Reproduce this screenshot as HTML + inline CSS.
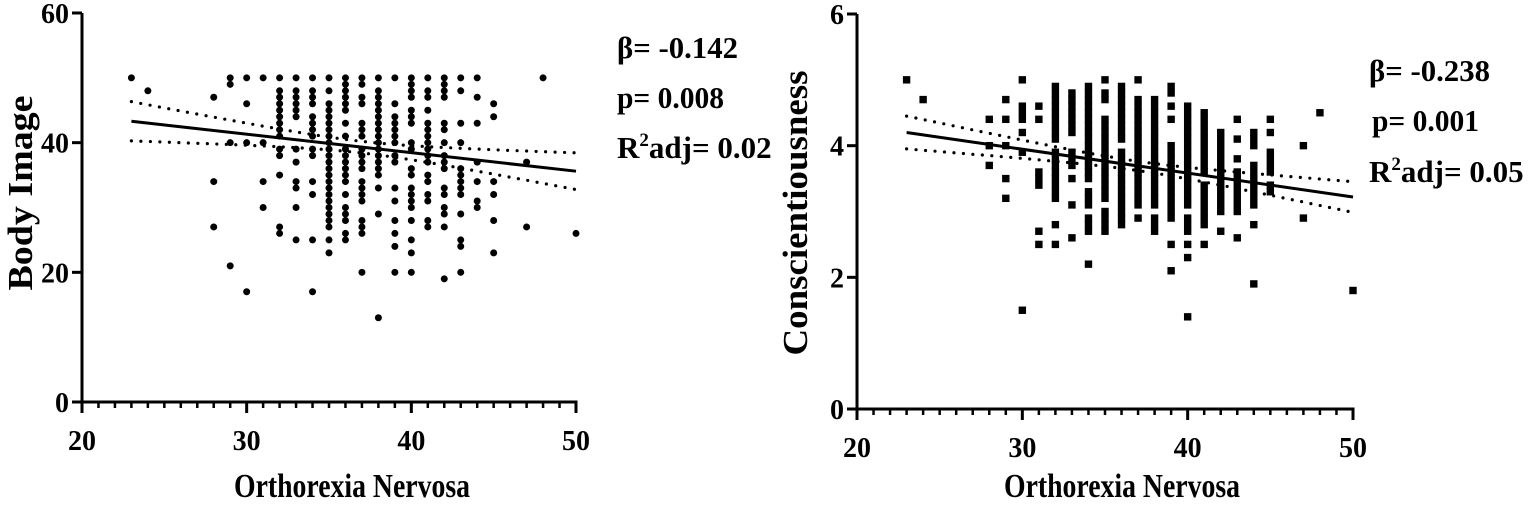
<!DOCTYPE html>
<html><head><meta charset="utf-8"><style>
html,body{margin:0;padding:0;background:#fff;}
svg{display:block;}
text{font-family:"Liberation Serif",serif;font-weight:bold;fill:#000;}
</style></head><body>
<svg id="c" width="1535" height="511" viewBox="0 0 1535 511">
<g id="left"></g>
<g id="right"></g>
<text x="617" y="58" font-size="31" textLength="121" lengthAdjust="spacingAndGlyphs">β= -0.142</text>
<text x="617" y="108" font-size="31" textLength="107" lengthAdjust="spacingAndGlyphs">p= 0.008</text>
<text x="617" y="158" font-size="31">R<tspan dy="-12" font-size="19">2</tspan><tspan dy="12">adj= 0.02</tspan></text>
<text x="1369" y="81" font-size="31" textLength="121" lengthAdjust="spacingAndGlyphs">β= -0.238</text>
<text x="1372" y="131" font-size="31" textLength="107" lengthAdjust="spacingAndGlyphs">p= 0.001</text>
<text x="1369" y="182" font-size="31">R<tspan dy="-12" font-size="19">2</tspan><tspan dy="12">adj= 0.05</tspan></text>
</svg>
<script>
// ---- Left chart data (Body Image) ----
const leftX = [23,24,28,29,30,31,32,33,34,35,36,37,38,39,40,41,42,43,44,45,47,48,50];
const leftY = [
 [50],[48],[47,34,27],[50,49,40,21],[50,46,40,17],[50,40,34,30],
 [50,48,47,46,45,44,43,42,41,39,38,35,27,26],
 [50,48,47,46,45,44,39,37,34,33,30,25],
 [50,48,47,46,44,43,42,41,39,38,34,32,25,17],
 [50,48,46,45,44,43,42,41,40,39,38,37,36,35,34,33,32,31,30,29,28,27,25,23],
 [50,49,48,47,46,45,43,41,39,38,37,36,35,34,32,30,29,28,26,25],
 [50,49,47,46,43,42,41,39,38,37,36,34,33,32,31,28,27,26,20],
 [50,48,47,46,45,44,43,42,41,40,39,38,37,36,35,33,29,13],
 [50,46,44,43,42,41,40,38,37,33,31,28,26,24,20],
 [50,49,48,47,45,44,43,40,39,36,35,33,32,31,30,28,25,23,20],
 [50,48,47,45,43,42,41,40,39,38,37,35,34,32,31,28,27],
 [50,49,48,47,43,42,40,38,37,36,33,32,30,29,27,19],
 [50,48,43,40,36,35,34,33,32,29,25,24,20],
 [50,47,43,37,34,31,30],
 [46,44,34,32,28,23],
 [37,27],[50],[26]
];
const leftFit = [43.3, 35.6];
const leftCI = [0.8, 0.0427, 37];
const leftYTicks = [0,20,40,60];
const xTicks = [20,30,40,50];

// ---- Right chart data (Conscientiousness) ----
const rightX = [23,24,28,29,30,31,32,33,34,35,36,37,38,39,40,41,42,43,44,45,47,48,50];
const rightY = [
 [5.0],[4.7],[4.4,4.0,3.7],[4.7,4.4,4.0,3.5,3.2],[5.0,4.6,4.5,4.4,4.2,3.9,1.5],
 [4.6,4.4,3.6,3.5,3.4,2.7,2.5],
 [4.9,4.8,4.7,4.6,4.5,4.4,4.3,4.2,4.1,3.9,3.8,3.7,3.6,3.5,3.4,3.3,3.2,2.8,2.5],
 [4.8,4.7,4.6,4.5,4.4,4.3,4.2,3.9,3.8,3.7,3.5,3.1,2.6],
 [4.9,4.8,4.7,4.6,4.5,4.4,4.3,4.2,4.1,4.0,3.9,3.8,3.7,3.6,3.5,3.3,3.2,3.1,2.9,2.8,2.7,2.2],
 [5.0,4.8,4.7,4.4,4.3,4.2,4.1,4.0,3.9,3.8,3.7,3.6,3.5,3.4,3.3,3.2,3.0,2.9,2.8,2.7],
 [4.9,4.8,4.7,4.6,4.5,4.4,4.3,4.2,4.1,3.9,3.8,3.7,3.6,3.5,3.4,3.3,3.2,3.1,3.0,2.9,2.8],
 [5.0,4.7,4.6,4.5,4.4,4.3,4.2,4.1,4.0,3.9,3.8,3.7,3.6,3.5,3.4,3.3,3.2,3.1,2.9],
 [4.7,4.6,4.5,4.4,4.3,4.2,4.1,4.0,3.9,3.8,3.7,3.6,3.5,3.4,3.3,3.2,3.1,2.9,2.8,2.7],
 [4.9,4.8,4.6,4.4,4.0,3.9,3.8,3.7,3.6,3.5,3.4,3.3,3.2,3.1,3.0,2.9,2.5,2.1],
 [4.6,4.5,4.4,4.3,4.2,4.1,4.0,3.9,3.8,3.7,3.6,3.5,3.4,3.3,3.2,3.1,2.9,2.8,2.7,2.5,2.3,1.4],
 [4.5,4.4,4.3,4.2,4.1,4.0,3.9,3.8,3.7,3.6,3.4,3.3,3.2,3.1,3.0,2.9,2.8,2.5],
 [4.2,4.1,4.0,3.9,3.8,3.7,3.6,3.5,3.4,3.3,3.2,3.1,3.0,2.7],
 [4.4,4.1,3.8,3.6,3.5,3.4,3.3,3.2,3.1,3.0,2.6],
 [4.2,4.1,4.0,3.7,3.6,3.5,3.4,3.3,3.2,3.1,2.8,1.9],
 [4.4,4.2,3.9,3.8,3.7,3.6,3.4,3.3],
 [4.0,2.9],[4.5],[1.8]
];
const rightFit = [4.2, 3.22];
const rightCI = [0.005, 0.000293, 37];
const rightYTicks = [0,2,4,6];

const NS = 'http://www.w3.org/2000/svg';
function mk(parent, tag, attrs){
  const e = document.createElementNS(NS, tag);
  for (const k in attrs) e.setAttribute(k, attrs[k]);
  parent.appendChild(e); return e;
}

function drawChart(g, o){
  const sx = v => o.x0 + (v - 20) * (o.x1 - o.x0) / 30;
  const sy = v => o.y0 - (v - 0) * (o.y0 - o.yTop) / o.yMax;
  const ya = mk(g,'line',{x1:o.x0,y1:o.yTop,x2:o.x0,y2:o.y0+10,stroke:'#000','stroke-width':3});
  
  
  const xa = mk(g,'line',{x1:o.x0-1.5,y1:o.y0,x2:o.x1+1.5,y2:o.y0,stroke:'#000','stroke-width':3});
  
  
  for (let v = 20; v <= 50; v++){
    const major = v % 10 === 0;
    const t = mk(g,'line',{x1:sx(v),y1:o.y0,x2:sx(v),y2:o.y0+(major?11:6),stroke:'#000','stroke-width':major?3:2.5});
    
    
  }
  xTicks.forEach(v => {
    const t = mk(g,'text',{x:sx(v),y:o.y0+48,'font-size':28,'text-anchor':'middle'});
    t.textContent = v;
    
    
  });
  o.yTicks.forEach(v => {
    const t = mk(g,'line',{x1:o.x0-10,y1:sy(v),x2:o.x0,y2:sy(v),stroke:'#000','stroke-width':3});
    
    
    const l = mk(g,'text',{x:o.x0-13,y:sy(v)+10,'font-size':28,'text-anchor':'end'});
    l.textContent = v;
    
    
  });
  const xt = mk(g,'text',{x:o.xTitleX,y:497,'font-size':34,'text-anchor':'middle',textLength:236,lengthAdjust:'spacingAndGlyphs'});
  xt.textContent = 'Orthorexia Nervosa';
  
  
  const yt = mk(g,'text',{x:0,y:0,'font-size':35,'text-anchor':'middle',textLength:o.titleLen,lengthAdjust:'spacingAndGlyphs',transform:`translate(${o.x0-50},${o.titleY}) rotate(-90)`});
  yt.textContent = o.title;
  
  
  o.xs.forEach((x, i) => {
    o.ys[i].forEach(y => {
      let m;
      if (o.square) m = mk(g,'rect',{x:sx(x)-3.7,y:sy(y)-3.7,width:7.4,height:7.4,fill:'#000'});
      else m = mk(g,'circle',{cx:sx(x),cy:sy(y),r:3.5,fill:'#000'});
      
      
    });
  });
  const fit = x => o.fit[0] + (o.fit[1]-o.fit[0]) * (x-23) / 27;
  const hw = x => Math.sqrt(o.ci[0] + o.ci[1]*(x-o.ci[2])*(x-o.ci[2]));
  const fl = mk(g,'line',{x1:sx(23),y1:sy(fit(23)),x2:sx(50),y2:sy(fit(50)),stroke:'#000','stroke-width':3});
  
  
  [1,-1].forEach(s => {
    let d = '';
    for (let x = 23; x <= 50.001; x += 0.25) d += (d?'L':'M') + sx(x).toFixed(1) + ',' + sy(fit(x)+s*hw(x)).toFixed(1);
    const p = mk(g,'path',{d:d,fill:'none',stroke:'#000','stroke-width':3.2,'stroke-dasharray':'0 9.5','stroke-linecap':'round'});
    
    
  });
}

drawChart(document.getElementById('left'), {p:'left',x0:82,x1:576,y0:402,yTop:13,yMax:60,yTicks:leftYTicks,
  xs:leftX,ys:leftY,fit:leftFit,ci:leftCI,title:'Body Image',titleLen:195,titleY:193,xTitleX:352,square:false});
drawChart(document.getElementById('right'), {p:'right',x0:857,x1:1353,y0:409,yTop:14,yMax:6,yTicks:rightYTicks,
  xs:rightX,ys:rightY,fit:rightFit,ci:rightCI,title:'Conscientiousness',titleLen:285,titleY:213,xTitleX:1122,square:true});
</script>
</body></html>
